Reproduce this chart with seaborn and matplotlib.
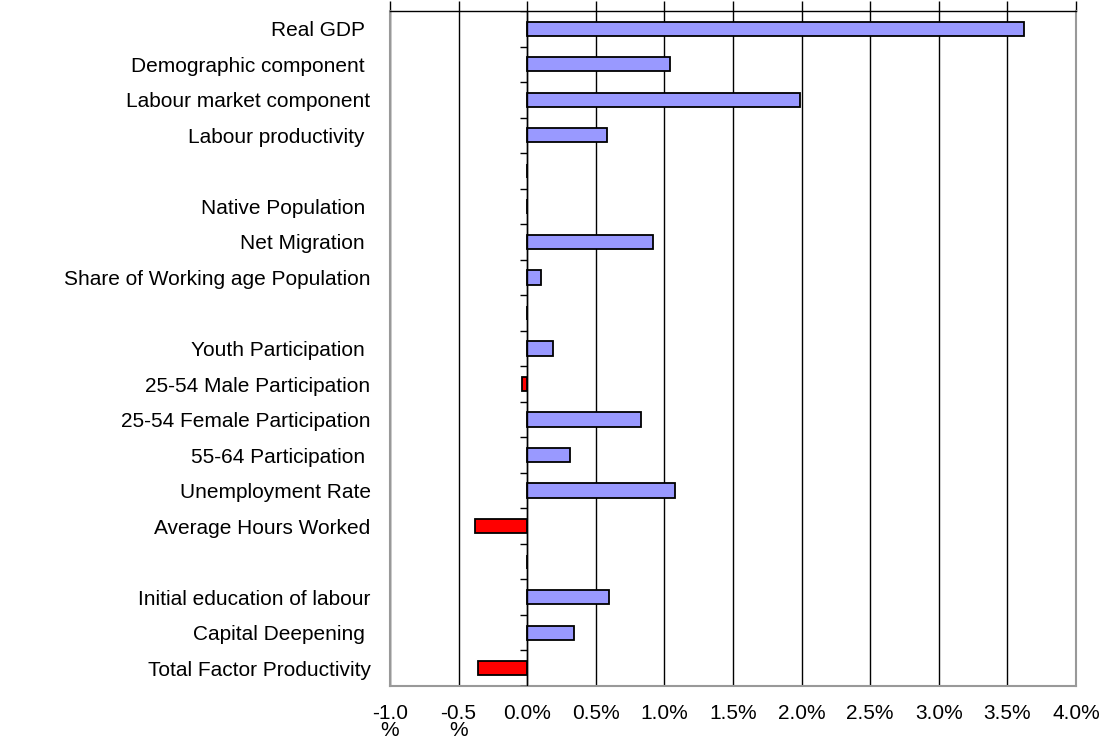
import numpy as np
import pandas as pd
import matplotlib
matplotlib.use("Agg")
import matplotlib.pyplot as plt
import seaborn as sns

# Datos (contribucion al crecimiento, %)
categorias = [
    "Real GDP ",
    "Demographic component ",
    "Labour market component",
    "Labour productivity ",
    " ",
    "Native Population ",
    "Net Migration ",
    "Share of Working age Population",
    "  ",
    "Youth Participation ",
    "25-54 Male Participation",
    "25-54 Female Participation",
    "55-64 Participation ",
    "Unemployment Rate",
    "Average Hours Worked",
    "   ",
    "Initial education of labour",
    "Capital Deepening ",
    "Total Factor Productivity",
]
valores = [3.62, 1.04, 1.99, 0.58, 0.0, 0.0, 0.92, 0.10, 0.0,
           0.19, -0.04, 0.83, 0.31, 1.08, -0.38, 0.0, 0.60, 0.34, -0.36]

ticks_x = [-1.0, -0.5, 0.0, 0.5, 1.0, 1.5, 2.0, 2.5, 3.0, 3.5, 4.0]
etiquetas_x = ["-1.0\n%", "-0.5\n%", "0.0%", "0.5%", "1.0%", "1.5%",
               "2.0%", "2.5%", "3.0%", "3.5%", "4.0%"]

df = pd.DataFrame({"Componente": categorias, "Valor": valores})
colores = ["#FF0000" if v < 0 else "#9999FF" for v in valores]

sns.set_style("white")
plt.rcParams['font.family'] = ['Liberation Sans', 'DejaVu Sans']
plt.rcParams['text.color'] = 'black'

fig = plt.figure(figsize=(11.12, 7.4), dpi=100)
ax = fig.add_axes([0.3507, 0.0730, 0.6169, 0.9121])

sns.barplot(
    data=df, y="Componente", x="Valor", hue="Componente",
    palette=colores, saturation=1, legend=False, orient="h", width=0.4,
    edgecolor="black", linewidth=1.3, ax=ax,
)

ax.set_xlim(-1.0, 4.0)
ax.set_ylim(len(categorias) - 0.5, -0.5)
ax.set_xticks(ticks_x)
ax.set_xticklabels(etiquetas_x, fontsize=15, linespacing=0.85)
ax.set_xlabel("")
ax.set_ylabel("")

# Lineas verticales de la cuadricula
ax.set_axisbelow(True)
ax.grid(axis="x", color="black", linewidth=1)
ax.grid(axis="y", visible=False)

# Marcas en el eje cero entre categorias
limites = np.arange(len(categorias) + 1) - 0.5
ax.hlines(limites, -0.05, 0.0, color="black", linewidth=1, zorder=3)
ax.axvline(0, color="black", linewidth=1, zorder=3)

ax.tick_params(axis="y", length=0, pad=14, labelsize=15, labelcolor="black")
ax.tick_params(axis="x", top=True, bottom=False, labeltop=False,
               labelbottom=True, direction="out", length=7, width=1,
               color="black", labelcolor="black", pad=6)

for lado in ["left", "right", "bottom"]:
    ax.spines[lado].set_color("#999999")
    ax.spines[lado].set_linewidth(1.5)
ax.spines["top"].set_color("black")
ax.spines["top"].set_linewidth(1)

plt.savefig("out.png", dpi=100)
